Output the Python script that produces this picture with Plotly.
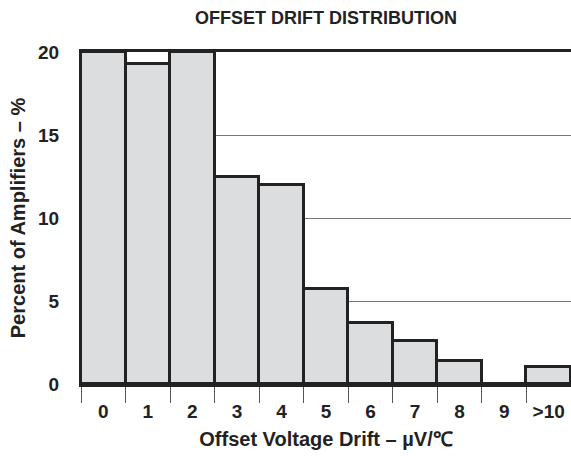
import plotly.graph_objects as go

# Offset drift histogram: share of amplifiers per µV/℃ bin
categories = ["0", "1", "2", "3", "4", "5", "6", "7", "8", "9", ">10"]
percent = [20, 19.3, 20, 12.5, 12, 5.7, 3.7, 2.6, 1.4, 0, 1.0]
y_ticks = [0, 5, 10, 15, 20]

positions = list(range(len(categories)))
font_family = "Liberation Sans, Arial, sans-serif"

fig = go.Figure(
    go.Bar(
        x=positions,
        y=percent,
        width=1,
        marker=dict(color="#dcdddf", line=dict(color="#222222", width=3)),
        hoverinfo="skip",
    )
)

fig.update_layout(
    width=571,
    height=456,
    margin=dict(l=81, r=0, t=52, b=72),
    paper_bgcolor="white",
    plot_bgcolor="white",
    showlegend=False,
    bargap=0,
    font=dict(family=font_family, color="#222222"),
    title=dict(
        text="<b>OFFSET DRIFT DISTRIBUTION</b>",
        x=(81 + 571) / 2 / 571,
        xanchor="center",
        y=1 - 18 / 456,
        yanchor="middle",
        font=dict(size=18, family=font_family, color="#222222"),
    ),
)

fig.update_xaxes(
    range=[-0.5, len(categories) - 0.5],
    tickmode="array",
    tickvals=positions,
    ticktext=[f"<b>{c}</b>" for c in categories],
    ticks="",
    ticklabelstandoff=8,
    tickfont=dict(size=19),
    minor=dict(ticks="outside", tick0=-0.5, dtick=1, ticklen=16,
               tickcolor="#555555", tickwidth=1),
    showline=True,
    linecolor="#222222",
    linewidth=3,
    mirror=True,
    showgrid=False,
    zeroline=False,
    title=dict(text="<b>Offset Voltage Drift – µV/℃</b>",
               font=dict(size=20), standoff=12),
)

fig.update_yaxes(
    range=[0, 20],
    tickmode="array",
    tickvals=y_ticks,
    ticktext=[f"<b>{v}</b>" for v in y_ticks],
    ticks="",
    ticklabelstandoff=16,
    tickfont=dict(size=19),
    showgrid=True,
    gridcolor="#777777",
    gridwidth=1,
    showline=True,
    linecolor="#222222",
    linewidth=2,
    zeroline=False,
    title=dict(text="<b>Percent of Amplifiers – %</b>",
               font=dict(size=20), standoff=7),
)

fig.write_html("out.html")
